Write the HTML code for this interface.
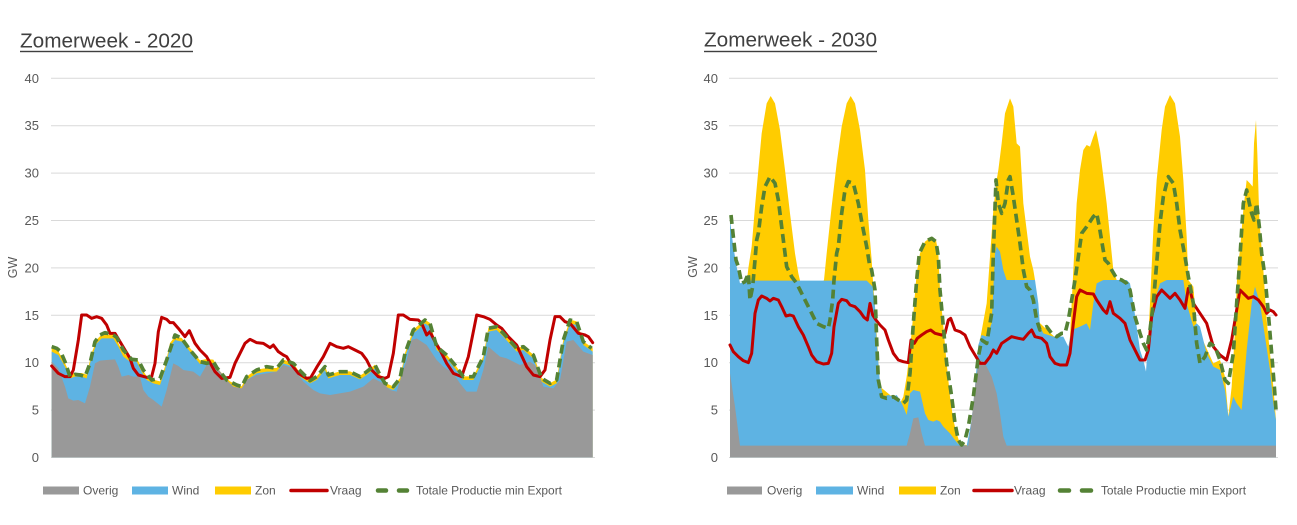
<!DOCTYPE html>
<html>
<head>
<meta charset="utf-8">
<style>
html,body{margin:0;padding:0;background:#fff;}
svg{display:block;}
text{font-family:"Liberation Sans",sans-serif;}
</style>
</head>
<body>
<svg width="1297" height="525" viewBox="0 0 1297 525" xmlns="http://www.w3.org/2000/svg">
<rect width="1297" height="525" fill="#fff"/>

<!-- ============ LEFT CHART ============ -->
<text x="20" y="47.3" font-size="20" fill="#404040" textLength="173" lengthAdjust="spacingAndGlyphs">Zomerweek - 2020</text>
<rect x="20" y="50.8" width="173" height="1.4" fill="#404040"/>

<g stroke="#d9d9d9" stroke-width="1">
<line x1="51" y1="78.3" x2="595" y2="78.3"/>
<line x1="51" y1="125.7" x2="595" y2="125.7"/>
<line x1="51" y1="173.1" x2="595" y2="173.1"/>
<line x1="51" y1="220.5" x2="595" y2="220.5"/>
<line x1="51" y1="267.9" x2="595" y2="267.9"/>
<line x1="51" y1="315.3" x2="595" y2="315.3"/>
<line x1="51" y1="362.7" x2="595" y2="362.7"/>
<line x1="51" y1="410.1" x2="595" y2="410.1"/>
<line x1="51" y1="457.5" x2="595" y2="457.5"/>
</g>
<g font-size="13" fill="#595959" text-anchor="end">
<text x="39" y="82.8">40</text>
<text x="39" y="130.2">35</text>
<text x="39" y="177.6">30</text>
<text x="39" y="225">25</text>
<text x="39" y="272.4">20</text>
<text x="39" y="319.8">15</text>
<text x="39" y="367.2">10</text>
<text x="39" y="414.6">5</text>
<text x="39" y="462">0</text>
</g>
<text transform="translate(17,267.5) rotate(-90)" font-size="12.5" fill="#595959" text-anchor="middle">GW</text>

<g transform="translate(0,280) scale(0.333333)">
<polygon transform="translate(0,-11)" fill="#ffcc00" points="155,543 155,215 175,225 195,260 210,295 225,290 245,290 260,295 275,230 290,190 305,175 340,175 355,200 370,230 390,245 410,245 425,275 440,300 460,310 480,315 495,270 510,200 525,180 545,185 570,215 600,252 620,248 640,250 660,285 690,315 710,325 725,330 740,300 770,280 800,275 830,275 850,250 880,260 900,290 930,310 950,300 975,270 985,295 1020,285 1050,285 1080,298 1100,285 1125,265 1140,295 1155,320 1180,330 1200,305 1215,230 1240,160 1275,130 1290,140 1310,210 1340,235 1365,265 1390,300 1420,300 1450,240 1465,155 1490,150 1510,170 1550,215 1570,210 1600,235 1625,305 1650,320 1670,310 1690,190 1710,130 1730,135 1750,195 1778,215 1778,543"/>
<polygon fill="#5eb3e3" points="155,532 155,215 175,225 195,260 210,295 225,290 245,290 260,295 275,230 290,190 305,175 340,175 355,200 370,230 390,245 410,245 425,275 440,300 460,310 480,315 495,270 510,200 525,180 545,185 570,215 600,252 620,248 640,250 660,285 690,315 710,325 725,330 740,300 770,280 800,275 830,275 850,250 880,260 900,290 930,310 950,300 975,270 985,295 1020,285 1050,285 1080,298 1100,285 1125,265 1140,295 1155,320 1180,330 1200,305 1215,230 1240,160 1275,130 1290,140 1310,210 1340,235 1365,265 1390,300 1420,300 1450,240 1465,155 1490,150 1510,170 1550,215 1570,210 1600,235 1625,305 1650,320 1670,310 1690,190 1710,130 1730,135 1750,195 1778,215 1778,532"/>
<polygon fill="#999999" points="155,532 155,245 175,265 195,320 205,355 220,362 235,360 255,370 270,320 285,250 300,242 320,240 345,238 355,260 365,290 385,285 400,290 420,290 430,330 445,350 460,360 485,380 500,330 520,250 535,258 550,270 580,275 600,290 620,255 650,262 665,280 680,300 700,320 725,325 740,300 770,285 800,280 830,275 850,255 880,265 910,305 940,330 960,340 990,345 1050,335 1090,320 1120,295 1150,310 1170,330 1190,335 1220,240 1235,180 1250,175 1280,195 1310,240 1330,260 1360,280 1380,310 1400,335 1430,335 1450,270 1465,200 1500,230 1520,235 1560,255 1590,245 1610,260 1630,320 1660,325 1680,300 1700,185 1720,180 1750,215 1778,225 1778,532"/>
<polyline fill="none" stroke="#c00000" stroke-width="9" stroke-linejoin="round" stroke-linecap="round" points="155,258 175,280 195,290 210,290 220,270 235,180 245,105 260,105 275,115 290,110 305,115 320,135 330,160 345,160 360,185 375,210 390,235 400,265 415,285 440,292 455,290 465,250 475,155 485,112 500,118 510,128 520,128 535,145 555,170 568,152 585,190 600,210 620,230 645,275 665,295 690,292 705,250 715,230 735,190 750,178 770,188 790,190 810,203 820,195 835,215 850,225 860,230 875,255 895,280 920,295 932,293 950,262 970,230 990,190 1010,200 1030,205 1045,200 1065,210 1085,220 1100,240 1115,270 1135,290 1155,295 1165,290 1180,220 1195,105 1210,105 1230,118 1255,120 1265,130 1280,165 1290,155 1305,185 1320,210 1340,250 1360,280 1385,290 1405,230 1430,105 1450,110 1470,118 1490,135 1505,145 1525,170 1550,195 1580,260 1600,285 1620,290 1635,270 1650,180 1665,110 1680,110 1695,125 1710,130 1735,160 1755,165 1765,170 1778,188"/>
<polyline fill="none" stroke="#548235" stroke-width="11" stroke-dasharray="27 15" stroke-linejoin="round" points="155,200 170,205 182,215 195,245 210,290 225,283 240,285 255,290 270,250 285,185 300,165 315,158 340,165 350,172 370,210 395,238 415,240 430,270 455,300 480,295 500,240 525,165 545,175 570,210 600,245 620,250 640,245 650,262 680,300 710,315 725,320 740,290 770,270 800,260 830,265 850,240 880,250 900,272 930,302 950,290 975,260 985,285 1020,275 1050,275 1080,290 1100,275 1125,255 1140,285 1155,310 1180,320 1200,295 1215,220 1240,150 1275,120 1290,130 1310,200 1340,225 1365,255 1390,290 1420,290 1450,230 1465,145 1490,140 1510,160 1550,205 1570,200 1600,225 1625,295 1650,310 1670,300 1690,180 1710,120 1730,125 1750,185 1775,205"/>
</g>

<rect x="43" y="486.5" width="36" height="8" fill="#999999"/>
<text x="83" y="494.5" font-size="12" fill="#595959">Overig</text>
<rect x="132" y="486.5" width="36" height="8" fill="#5eb3e3"/>
<text x="172" y="494.5" font-size="12" fill="#595959">Wind</text>
<rect x="215" y="486.5" width="36" height="8" fill="#ffcc00"/>
<text x="255" y="494.5" font-size="12" fill="#595959">Zon</text>
<line x1="291" y1="490.5" x2="327" y2="490.5" stroke="#c00000" stroke-width="3.5" stroke-linecap="round"/>
<text x="330" y="494.5" font-size="12" fill="#595959">Vraag</text>
<line x1="378" y1="490.5" x2="386" y2="490.5" stroke="#548235" stroke-width="4.5" stroke-linecap="round"/>
<line x1="399" y1="490.5" x2="407" y2="490.5" stroke="#548235" stroke-width="4.5" stroke-linecap="round"/>
<text x="416" y="494.5" font-size="12" fill="#595959" textLength="146" lengthAdjust="spacingAndGlyphs">Totale Productie min Export</text>

<!-- ============ RIGHT CHART ============ -->
<text x="704" y="46.7" font-size="20" fill="#404040" textLength="173" lengthAdjust="spacingAndGlyphs">Zomerweek - 2030</text>
<rect x="704" y="50.8" width="173" height="1.4" fill="#404040"/>

<g stroke="#d9d9d9" stroke-width="1">
<line x1="729" y1="78.3" x2="1278" y2="78.3"/>
<line x1="729" y1="125.7" x2="1278" y2="125.7"/>
<line x1="729" y1="173.1" x2="1278" y2="173.1"/>
<line x1="729" y1="220.5" x2="1278" y2="220.5"/>
<line x1="729" y1="267.9" x2="1278" y2="267.9"/>
<line x1="729" y1="315.3" x2="1278" y2="315.3"/>
<line x1="729" y1="362.7" x2="1278" y2="362.7"/>
<line x1="729" y1="410.1" x2="1278" y2="410.1"/>
<line x1="729" y1="457.5" x2="1278" y2="457.5"/>
</g>
<g font-size="13" fill="#595959" text-anchor="end">
<text x="718" y="82.8">40</text>
<text x="718" y="130.2">35</text>
<text x="718" y="177.6">30</text>
<text x="718" y="225">25</text>
<text x="718" y="272.4">20</text>
<text x="718" y="319.8">15</text>
<text x="718" y="367.2">10</text>
<text x="718" y="414.6">5</text>
<text x="718" y="462">0</text>
</g>
<text transform="translate(697,267) rotate(-90)" font-size="12.5" fill="#595959" text-anchor="middle">GW</text>

<g transform="translate(680,20) scale(0.333333)">
<polygon fill="#ffcc00" points="150,1312 150,800 200,790 205,745 215,680 225,560 235,450 245,340 260,250 272,228 285,250 300,330 315,450 330,580 345,700 355,760 362,790 425,790 432,780 440,700 455,560 470,430 485,320 500,250 512,228 525,250 540,330 555,450 565,600 575,720 580,800 585,860 600,1100 660,1150 670,1130 680,1070 690,990 700,880 710,760 720,700 735,665 755,650 768,660 775,700 780,810 790,920 800,1030 810,1130 820,1200 830,1240 840,1272 870,1277 900,960 920,850 940,570 950,480 955,450 965,370 975,280 990,235 1000,260 1010,370 1020,380 1030,550 1040,630 1050,710 1060,750 1065,780 1070,900 1165,990 1170,950 1180,750 1190,550 1200,450 1210,390 1220,375 1230,380 1240,350 1248,330 1260,390 1270,470 1280,550 1290,650 1300,750 1310,780 1320,800 1395,1060 1400,1050 1410,850 1420,630 1430,480 1445,330 1455,260 1470,225 1485,250 1500,350 1510,480 1520,650 1525,780 1540,800 1550,920 1600,1030 1620,1020 1635,1070 1645,1190 1655,1100 1665,930 1672,750 1680,690 1690,570 1700,480 1710,490 1718,500 1722,370 1728,300 1732,400 1738,600 1750,750 1760,900 1770,1000 1780,1100 1788,1200 1788,1312"/>
<polygon fill="#5eb3e3" points="150,1312 150,600 160,680 170,740 180,790 200,782 560,782 578,800 585,860 590,960 600,1090 610,1130 625,1125 640,1130 650,1125 660,1140 670,1160 680,1185 690,1120 700,1110 720,1115 735,1180 745,1200 760,1205 770,1200 780,1205 790,1220 810,1240 825,1260 835,1272 860,1277 875,1200 885,1100 895,975 905,945 920,950 935,910 945,700 950,680 960,695 970,750 980,780 1065,780 1075,850 1080,920 1090,940 1120,950 1150,950 1160,970 1165,980 1175,930 1200,920 1220,910 1230,930 1240,850 1250,790 1270,780 1340,780 1350,790 1360,850 1370,920 1380,990 1390,1020 1398,1055 1405,950 1415,870 1440,790 1460,780 1510,780 1520,850 1540,920 1550,910 1560,920 1580,1000 1600,1040 1620,1050 1635,1110 1645,1190 1660,1130 1670,1150 1685,1170 1700,990 1715,850 1725,800 1740,850 1755,950 1770,1050 1780,1150 1788,1200 1788,1312"/>
<polygon fill="#999999" points="150,1312 150,1060 165,1160 180,1277 680,1277 690,1240 700,1195 715,1192 725,1240 735,1277 865,1277 875,1200 885,1100 895,1030 905,1020 920,1040 935,1070 950,1120 960,1180 970,1250 980,1277 1788,1277 1788,1312"/>
<polyline fill="none" stroke="#c00000" stroke-width="9" stroke-linejoin="round" stroke-linecap="round" points="150,975 160,995 175,1010 190,1022 205,1028 215,1000 225,880 235,840 245,828 260,835 270,843 280,835 295,840 305,860 318,888 330,885 340,888 355,920 370,945 385,980 395,1005 410,1025 430,1032 445,1030 455,1000 462,920 475,850 485,838 500,842 510,855 525,860 540,875 552,892 562,900 570,850 578,885 588,900 600,915 615,930 625,960 640,1000 655,1020 670,1025 685,1028 693,960 703,970 712,955 725,945 740,935 752,930 765,940 785,945 795,940 805,900 812,895 825,930 840,935 855,945 870,980 885,1005 900,1030 915,1030 930,1010 940,990 950,1000 965,970 980,960 995,950 1015,955 1030,958 1045,940 1055,930 1065,950 1085,955 1100,970 1110,1010 1125,1030 1140,1035 1160,1035 1170,1000 1180,910 1190,830 1200,810 1220,820 1240,822 1250,840 1270,870 1280,880 1290,845 1300,880 1320,895 1335,910 1350,960 1370,1000 1380,1020 1395,1020 1405,990 1415,890 1430,830 1445,810 1455,820 1470,835 1485,820 1500,840 1515,865 1525,805 1530,810 1540,850 1560,880 1580,910 1600,980 1620,1005 1640,1020 1655,960 1670,870 1680,810 1690,820 1705,835 1720,830 1735,840 1750,860 1760,880 1770,870 1780,875 1788,885"/>
<polyline fill="none" stroke="#548235" stroke-width="11" stroke-dasharray="27 15" stroke-linejoin="round" points="153,585 160,650 168,720 175,740 185,790 195,785 205,760 210,840 218,800 225,720 230,660 235,640 245,560 255,500 270,470 285,490 295,540 305,620 315,700 320,740 335,770 350,790 360,810 375,840 395,880 410,910 430,920 445,925 450,900 458,840 462,780 470,700 475,680 485,580 495,510 505,485 520,490 535,550 548,620 560,680 568,730 575,750 585,810 590,960 595,1080 605,1130 620,1135 640,1130 655,1140 670,1150 680,1140 690,1060 700,910 710,780 718,700 735,665 755,655 768,665 775,710 780,810 790,920 800,1030 815,1130 825,1210 835,1260 845,1275 855,1260 865,1220 880,1130 895,1010 905,960 920,970 935,880 940,700 948,480 955,550 965,580 975,550 985,480 990,470 1000,530 1010,600 1020,670 1030,750 1040,800 1050,810 1060,840 1070,900 1080,930 1100,920 1115,940 1130,950 1145,940 1155,940 1165,900 1175,840 1185,780 1195,710 1205,640 1220,620 1240,590 1250,580 1258,620 1268,680 1275,720 1285,730 1295,750 1310,775 1325,780 1340,790 1350,810 1365,890 1380,940 1390,970 1400,990 1410,930 1420,850 1430,730 1440,610 1450,530 1465,470 1480,490 1490,550 1500,630 1515,710 1525,770 1540,850 1550,970 1560,1030 1575,1010 1590,970 1605,980 1620,1020 1635,1080 1645,1090 1660,1000 1670,850 1680,710 1690,550 1700,510 1708,550 1715,580 1722,600 1730,550 1738,620 1745,700 1755,770 1765,880 1775,1000 1783,1100 1788,1170"/>
</g>

<rect x="727" y="486.5" width="35" height="8" fill="#999999"/>
<text x="767" y="494.5" font-size="12" fill="#595959">Overig</text>
<rect x="816" y="486.5" width="37" height="8" fill="#5eb3e3"/>
<text x="857" y="494.5" font-size="12" fill="#595959">Wind</text>
<rect x="899" y="486.5" width="37" height="8" fill="#ffcc00"/>
<text x="940" y="494.5" font-size="12" fill="#595959">Zon</text>
<line x1="974" y1="490.5" x2="1012" y2="490.5" stroke="#c00000" stroke-width="3.5" stroke-linecap="round"/>
<text x="1014" y="494.5" font-size="12" fill="#595959">Vraag</text>
<line x1="1060" y1="490.5" x2="1069" y2="490.5" stroke="#548235" stroke-width="4.5" stroke-linecap="round"/>
<line x1="1082" y1="490.5" x2="1091" y2="490.5" stroke="#548235" stroke-width="4.5" stroke-linecap="round"/>
<text x="1101" y="494.5" font-size="12" fill="#595959" textLength="145" lengthAdjust="spacingAndGlyphs">Totale Productie min Export</text>
</svg>
</body>
</html>
